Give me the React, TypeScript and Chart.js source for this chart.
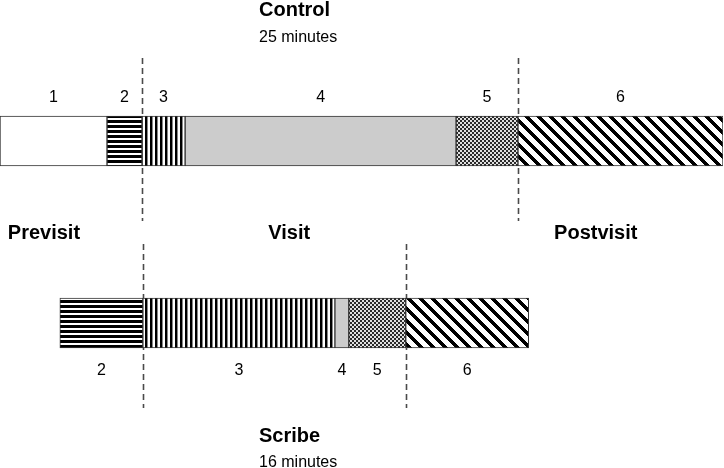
import React, { useEffect, useRef } from "react";
import { Chart, registerables } from "chart.js";

Chart.register(...registerables);

// ---- data (minutes) ----
const categories = ["Control", "Scribe"];
const totalLabels = ["25 minutes", "16 minutes"];
const segmentNames = ["1", "2", "3", "4", "5", "6"];
const offsetMinutes: (number | null)[] = [null, 2.07];
const seg1: (number | null)[] = [3.7, null];
const seg2: (number | null)[] = [1.21, 2.87];
const seg3: (number | null)[] = [1.49, 6.64];
const seg4: (number | null)[] = [9.37, 0.48];
const seg5: (number | null)[] = [2.14, 1.97];
const seg6: (number | null)[] = [7.09, 4.25];
const phaseLabels = ["Previsit", "Visit", "Postvisit"];
const xMax = 25;

const FONT = "'Liberation Sans', Arial, Helvetica, sans-serif";

function makePattern(
  ctx: CanvasRenderingContext2D,
  w: number,
  h: number,
  shade: (x: number, y: number) => string | null,
  light = "#fff"
) {
  const c = document.createElement("canvas");
  c.width = w;
  c.height = h;
  const g = c.getContext("2d")!;
  g.fillStyle = light;
  g.fillRect(0, 0, w, h);
  for (let y = 0; y < h; y++) {
    for (let x = 0; x < w; x++) {
      const s = shade(x, y);
      if (s) {
        g.fillStyle = s;
        g.fillRect(x, y, 1, 1);
      }
    }
  }
  return ctx.createPattern(c, "repeat")!;
}

export default function App() {
  const ref = useRef<HTMLCanvasElement | null>(null);

  useEffect(() => {
    const canvas = ref.current!;
    const ctx = canvas.getContext("2d")!;

    const pHoriz = makePattern(ctx, 5, 5, (x, y) => (y < 3 ? "#000" : null));
    const pVert = makePattern(ctx, 5, 5, (x) => (x < 2 ? "#000" : x === 2 ? "#888" : null));
    const pChecker = makePattern(ctx, 4, 4, (x, y) =>
      ((x >> 1) + (y >> 1)) % 2 === 0 ? "#2a2a2a" : "#e0e0e0"
    );
    const P = 12;
    const pDiag = makePattern(ctx, P, P, (x, y) => ((((x - y) % P) + P) % P < 5 ? "#000" : null));

    const segData = [seg1, seg2, seg3, seg4, seg5, seg6];
    const segFills: any[] = ["#ffffff", pHoriz, pVert, "#cccccc", pChecker, pDiag];

    const datasets: any[] = [
      {
        label: "offset",
        data: offsetMinutes,
        backgroundColor: "rgba(0,0,0,0)",
        borderWidth: 0,
      },
      ...segData.map((d, i) => ({
        label: segmentNames[i],
        data: d,
        backgroundColor: segFills[i],
        borderColor: "#333",
        borderWidth: 1,
        borderSkipped: false,
      })),
    ];

    const annot = {
      id: "annot",
      beforeDatasetsDraw(chart: any) {
        const c = chart.ctx;
        c.save();
        c.strokeStyle = "#4a4a4a";
        c.lineWidth = 1.6;
        c.setLineDash([6, 4]);
        const ext = [
          [58, 55],
          [54, 60],
        ];
        for (let j = 0; j < categories.length; j++) {
          const startEl = chart.getDatasetMeta(3).data[j]; // segment 3 start
          const endEl = chart.getDatasetMeta(6).data[j]; // segment 6 start
          const top = startEl.y - startEl.height / 2;
          const bottom = startEl.y + startEl.height / 2;
          for (const xv of [startEl.base, endEl.base]) {
            const x = Math.round(xv) + 0.5;
            c.beginPath();
            c.moveTo(x, top - ext[j][0]);
            c.lineTo(x, bottom + ext[j][1]);
            c.stroke();
          }
        }
        c.restore();
      },
      afterDraw(chart: any) {
        const c = chart.ctx;
        const xs = chart.scales.x;
        c.save();
        c.fillStyle = "#000";
        // segment numbers
        c.font = `16px ${FONT}`;
        c.textAlign = "center";
        c.textBaseline = "alphabetic";
        for (let j = 0; j < categories.length; j++) {
          for (let i = 0; i < segData.length; i++) {
            if (segData[i][j] == null) continue;
            const el = chart.getDatasetMeta(i + 1).data[j];
            const cx = (el.x + el.base) / 2;
            const y = j === 0 ? el.y - el.height / 2 - 14 : el.y + el.height / 2 + 27;
            c.fillText(segmentNames[i], cx, y);
          }
        }
        // titles
        c.textAlign = "left";
        const titleX = 259;
        c.font = `bold 20px ${FONT}`;
        c.fillText(categories[0], titleX, 16);
        c.fillText(categories[1], titleX, 442);
        c.font = `16px ${FONT}`;
        c.fillText(totalLabels[0], titleX, 42);
        c.fillText(totalLabels[1], titleX, 467);
        // phase labels
        c.font = `bold 20px ${FONT}`;
        c.textAlign = "center";
        const phaseX = [1.52, 10.0, 20.6];
        phaseLabels.forEach((t, k) => {
          c.fillText(t, xs.getPixelForValue(phaseX[k]), 239);
        });
        c.restore();
      },
    };

    const chart = new Chart(ctx, {
      type: "bar",
      data: { labels: categories, datasets },
      options: {
        indexAxis: "y",
        responsive: false,
        animation: false,
        devicePixelRatio: 1,
        layout: { padding: { top: 50, bottom: 54, left: 0, right: 1 } },
        datasets: { bar: { barThickness: 50 } },
        scales: {
          x: { stacked: true, min: 0, max: xMax, display: false },
          y: { stacked: true, display: false, offset: true },
        },
        plugins: {
          legend: { display: false },
          tooltip: { enabled: false },
          title: { display: false },
        },
      } as any,
      plugins: [annot],
    });
    return () => chart.destroy();
  }, []);

  return (
    <div style={{ position: "fixed", left: 0, top: 0, width: 724, height: 468, background: "#fff" }}>
      <canvas ref={ref} width={724} height={468} style={{ display: "block" }} />
    </div>
  );
}
